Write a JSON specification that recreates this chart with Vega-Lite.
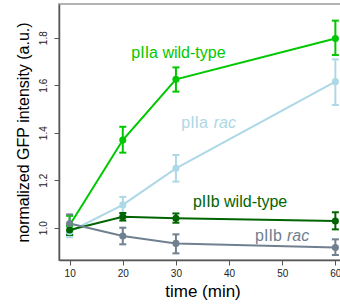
{
  "$schema": "https://vega.github.io/schema/vega-lite/v6.json",
  "autosize": {"type": "none"},
  "padding": {"left": 59, "top": 4, "right": 0, "bottom": 48},
  "width": 287,
  "height": 256,
  "background": "white",
  "config": {
    "view": {"stroke": "#b4b4b4", "strokeWidth": 2},
    "font": "Liberation Sans"
  },
  "datasets": {
    "pts": [
      {"series": "pIIa wild-type", "time": 10, "mean": 1.01, "lo": 0.97, "hi": 1.05},
      {"series": "pIIa wild-type", "time": 20, "mean": 1.369, "lo": 1.316, "hi": 1.425},
      {"series": "pIIa wild-type", "time": 30, "mean": 1.625, "lo": 1.573, "hi": 1.675},
      {"series": "pIIa wild-type", "time": 60, "mean": 1.797, "lo": 1.727, "hi": 1.872},
      {"series": "pIIa rac", "time": 10, "mean": 0.983, "lo": 0.96, "hi": 1.005},
      {"series": "pIIa rac", "time": 20, "mean": 1.096, "lo": 1.06, "hi": 1.13},
      {"series": "pIIa rac", "time": 30, "mean": 1.25, "lo": 1.194, "hi": 1.306},
      {"series": "pIIa rac", "time": 60, "mean": 1.615, "lo": 1.517, "hi": 1.709},
      {"series": "pIIb wild-type", "time": 10, "mean": 0.99, "lo": 0.97, "hi": 1.01},
      {"series": "pIIb wild-type", "time": 20, "mean": 1.046, "lo": 1.03, "hi": 1.062},
      {"series": "pIIb wild-type", "time": 30, "mean": 1.04, "lo": 1.021, "hi": 1.06},
      {"series": "pIIb wild-type", "time": 60, "mean": 1.028, "lo": 0.993, "hi": 1.065},
      {"series": "pIIb rac", "time": 10, "mean": 1.018, "lo": 0.982, "hi": 1.056},
      {"series": "pIIb rac", "time": 20, "mean": 0.965, "lo": 0.93, "hi": 1.0},
      {"series": "pIIb rac", "time": 30, "mean": 0.934, "lo": 0.892, "hi": 0.972},
      {"series": "pIIb rac", "time": 60, "mean": 0.917, "lo": 0.885, "hi": 0.951}
    ],
    "labels": [
      {"series": "pIIa wild-type", "text": "pIIa wild-type", "italic": false, "x": 21.6, "y": 1.736},
      {"series": "pIIa rac", "text": "pIIa", "italic": false, "x": 31.0, "y": 1.44},
      {"series": "pIIa rac", "text": "rac", "italic": true, "x": 37.1, "y": 1.44},
      {"series": "pIIb wild-type", "text": "pIIb wild-type", "italic": false, "x": 33.2, "y": 1.108},
      {"series": "pIIb rac", "text": "pIIb", "italic": false, "x": 44.9, "y": 0.966},
      {"series": "pIIb rac", "text": "rac", "italic": true, "x": 50.9, "y": 0.966}
    ]
  },
  "encoding": {
    "color": {
      "field": "series", "type": "nominal", "legend": null,
      "scale": {
        "domain": ["pIIa wild-type", "pIIa rac", "pIIb wild-type", "pIIb rac"],
        "range": ["#00c800", "#add8e6", "#006400", "#708090"]
      }
    }
  },
  "layer": [
    {
      "data": {"name": "pts"},
      "mark": {"type": "rule", "strokeWidth": 2},
      "encoding": {
        "x": {
          "field": "time", "type": "quantitative",
          "scale": {"domain": [8, 62], "nice": false, "zero": false},
          "axis": {
            "values": [10, 20, 30, 40, 50, 60], "grid": false,
            "title": "time (min)", "titleFontSize": 17, "titleFontWeight": "normal",
            "titleColor": "#000", "titlePadding": 5,
            "labelFontSize": 10, "labelColor": "#222", "labelPadding": 3,
            "tickSize": 5, "tickColor": "#555", "domainColor": "#555", "domainWidth": 1.5
          }
        },
        "y": {
          "field": "lo", "type": "quantitative",
          "scale": {"domain": [0.864, 1.942], "nice": false, "zero": false},
          "axis": {
            "values": [1.0, 1.2, 1.4, 1.6, 1.8], "format": ".1f", "grid": false,
            "title": "normalized GFP intensity (a.u.)", "titleFontSize": 16,
            "titleFontWeight": "normal", "titleColor": "#000", "titlePadding": 7,
            "labelAngle": -90, "labelAlign": "center", "labelBaseline": "bottom",
            "labelFontSize": 10, "labelColor": "#222", "labelPadding": 6,
            "tickSize": 5, "tickColor": "#555", "domainColor": "#555", "domainWidth": 1.5
          }
        },
        "y2": {"field": "hi"}
      }
    },
    {
      "data": {"name": "pts"},
      "mark": {"type": "tick", "orient": "horizontal", "size": 7, "thickness": 2, "opacity": 1},
      "encoding": {
        "x": {"field": "time", "type": "quantitative"},
        "y": {"field": "lo", "type": "quantitative"}
      }
    },
    {
      "data": {"name": "pts"},
      "mark": {"type": "tick", "orient": "horizontal", "size": 7, "thickness": 2, "opacity": 1},
      "encoding": {
        "x": {"field": "time", "type": "quantitative"},
        "y": {"field": "hi", "type": "quantitative"}
      }
    },
    {
      "data": {"name": "pts"},
      "mark": {"type": "line", "strokeWidth": 2},
      "encoding": {
        "x": {"field": "time", "type": "quantitative"},
        "y": {"field": "mean", "type": "quantitative"},
        "detail": {"field": "series"}
      }
    },
    {
      "data": {"name": "pts"},
      "mark": {"type": "point", "filled": true, "size": 50, "opacity": 1},
      "encoding": {
        "x": {"field": "time", "type": "quantitative"},
        "y": {"field": "mean", "type": "quantitative"}
      }
    },
    {
      "data": {"name": "labels"},
      "transform": [{"filter": "!datum.italic"}],
      "mark": {"type": "text", "align": "left", "baseline": "middle", "fontSize": 16},
      "encoding": {
        "x": {"field": "x", "type": "quantitative"},
        "y": {"field": "y", "type": "quantitative"},
        "text": {"field": "text"}
      }
    },
    {
      "data": {"name": "labels"},
      "transform": [{"filter": "datum.italic"}],
      "mark": {"type": "text", "align": "left", "baseline": "middle", "fontSize": 16, "fontStyle": "italic"},
      "encoding": {
        "x": {"field": "x", "type": "quantitative"},
        "y": {"field": "y", "type": "quantitative"},
        "text": {"field": "text"}
      }
    }
  ]
}
